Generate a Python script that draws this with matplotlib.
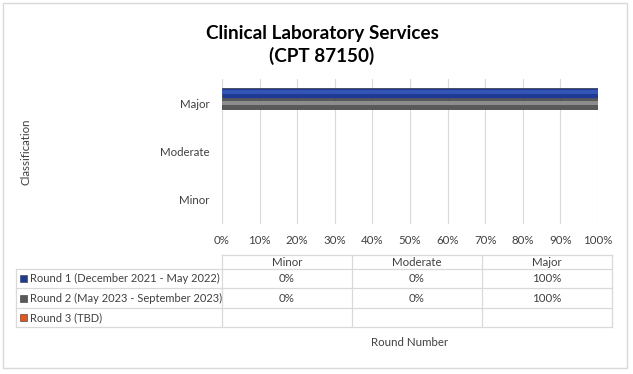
import matplotlib
matplotlib.use("Agg")
import matplotlib.pyplot as plt
from matplotlib.lines import Line2D
from matplotlib.patches import Rectangle

# ---- data ----
categories = ["Minor", "Moderate", "Major"]
series_names = ["Round 1 (December 2021 - May 2022)",
                "Round 2 (May 2023 - September 2023)",
                "Round 3 (TBD)"]
round1 = [0, 0, 100]
round2 = [0, 0, 100]
round3 = [None, None, None]
xticks = [0, 10, 20, 30, 40, 50, 60, 70, 80, 90, 100]
title = "Clinical Laboratory Services\n(CPT 87150)"

colors = ["#1F3A93", "#595959", "#E2571C"]
hilite = ["#3A5BC0", "#9A9A9A", "#F07A40"]

W, H = 633, 374
fig = plt.figure(figsize=(W / 100, H / 100), dpi=100)
plt.rcParams['font.family'] = ['Lato', 'DejaVu Sans']
FS = 8.3

def fx(px):
    return px / W

def fy(py):
    return 1 - py / H

# outer border
fig.patches.append(Rectangle((fx(3), fy(368)), fx(627) - fx(3), fy(3) - fy(368),
                             transform=fig.transFigure, fill=False,
                             edgecolor="#D9D9D9", linewidth=1))

ax = fig.add_axes([fx(222), fy(224), fx(598) - fx(222), fy(79) - fy(224)])
ypos = list(range(len(categories)))
h = 0.22
offsets = [0.21, -0.02, -0.25]
for vals, off, c, hc in zip([round1, round2, round3], offsets, colors, hilite):
    v = [0 if x is None else x for x in vals]
    lw = [0.4 if x else 0 for x in v]
    yy = [y + off for y in ypos]
    ax.barh(yy, v, height=h, color=c, edgecolor="#1a1a1a", linewidth=lw, zorder=3)
    ax.barh([y + h * 0.12 for y in yy], v, height=h * 0.35, color=hc,
            linewidth=0, zorder=4, alpha=0.8)

ax.set_xlim(0, 100)
ax.set_ylim(-0.5, 2.5)
ax.set_xticks(xticks)
ax.set_xticklabels([f"{t}%" for t in xticks], fontsize=FS, color="#404040")
ax.set_yticks(ypos)
ax.set_yticklabels(categories, fontsize=FS, color="#404040")
ax.tick_params(length=0, pad=8)
ax.tick_params(axis="y", pad=9)
ax.grid(axis="x", color="#D9D9D9", linewidth=0.8, zorder=0)
for s in ax.spines.values():
    s.set_visible(False)

fig.text(fx(322), fy(45), title, ha="center", va="center", fontsize=13.6,
         fontweight="bold", color="black", linespacing=1.35)
fig.text(fx(26), fy(152), "Classification", rotation=90, ha="center", va="center",
         fontsize=FS, color="#404040")
fig.text(fx(410), fy(343), "Round Number", ha="center", va="center",
         fontsize=FS, color="#404040")

# ---- data table ----
lc = "#D9D9D9"
col_x = [222, 352, 482, 612]
row_y = [255, 269, 288, 308, 327]
def hline(x0, x1, y):
    fig.add_artist(Line2D([fx(x0), fx(x1)], [fy(y), fy(y)], color=lc, linewidth=0.9,
                          transform=fig.transFigure))
def vline(x, y0, y1):
    fig.add_artist(Line2D([fx(x), fx(x)], [fy(y0), fy(y1)], color=lc, linewidth=0.9,
                          transform=fig.transFigure))

hline(222, 612, 255)
for y in row_y[1:]:
    hline(16, 612, y)
vline(16, 269, 327)
for x in col_x:
    vline(x, 255, 327)

for j, cat in enumerate(categories):
    cx = (col_x[j] + col_x[j + 1]) / 2
    fig.text(fx(cx), fy(262), cat, ha="center", va="center", fontsize=FS, color="#404040")

rows = [round1, round2, round3]
for i, (name, vals, c) in enumerate(zip(series_names, rows, colors)):
    cy = (row_y[i + 1] + row_y[i + 2]) / 2
    fig.patches.append(Rectangle((fx(20), fy(cy + 3.5)), fx(7), fy(0) - fy(7),
                                 transform=fig.transFigure, facecolor=c,
                                 edgecolor="#333333", linewidth=0.4))
    fig.text(fx(30), fy(cy), name, ha="left", va="center", fontsize=FS - 0.3,
             color="#404040")
    for j, v in enumerate(vals):
        if v is None:
            continue
        cx = (col_x[j] + col_x[j + 1]) / 2
        fig.text(fx(cx), fy(cy), f"{v}%", ha="center", va="center", fontsize=FS,
                 color="#404040")

fig.savefig("out.png", dpi=100)
